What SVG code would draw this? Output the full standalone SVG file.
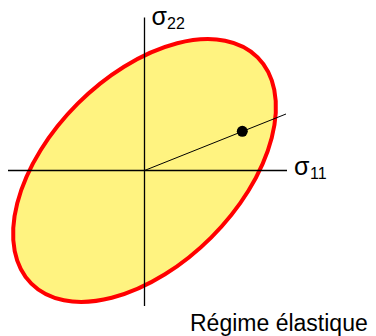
<svg xmlns="http://www.w3.org/2000/svg" width="376" height="336" viewBox="0 0 376 336">
<style>
.ax{stroke:#000;stroke-width:1.3;fill:none}
.ray{stroke:#000;stroke-width:1;fill:none}
.t{font-family:"Liberation Sans",Arial,sans-serif;fill:#000}
.sig{font-size:25px}
.sub{font-size:16px}
</style>
<rect width="376" height="336" fill="#fff"/>
<g id="ellipse">
<ellipse cx="144.5" cy="170.5" rx="160" ry="94.5" transform="rotate(-45 144.5 170.5)" fill="#fff380" stroke="#ff0000" stroke-width="4"/>
</g>
<g id="connectors">
<line class="ax" x1="8" y1="170.5" x2="287" y2="170.5"/>
<line class="ax" x1="144.5" y1="17.5" x2="144.5" y2="306"/>
<line class="ray" x1="144.5" y1="170.5" x2="286" y2="114"/>
</g>
<g id="point">
<circle cx="242.3" cy="131.3" r="5.5" fill="#000"/>
</g>
<g id="label-s22">
<text class="t sig" x="151.5" y="25">σ</text>
<text class="t sub" x="167" y="29">22</text>
</g>
<g id="label-s11">
<text class="t sig" x="294" y="175">σ</text>
<text class="t sub" x="310" y="179">11</text>
</g>
<g id="caption">
<text class="t" x="190" y="331" font-size="23">Régime élastique</text>
</g>
</svg>
